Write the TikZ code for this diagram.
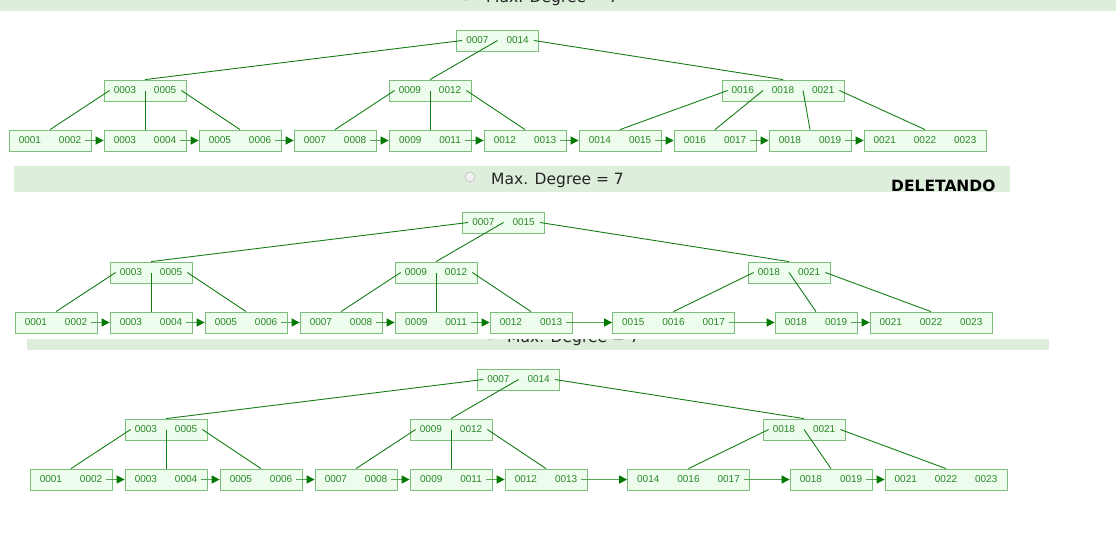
\documentclass[tikz,border=0pt]{standalone}
\usepackage{fontspec}
\setmainfont{Liberation Sans}
\newfontfamily\dejavu{DejaVu Sans}
\usetikzlibrary{arrows.meta}
\definecolor{boxc}{RGB}{125,190,125}
\definecolor{fillc}{RGB}{238,252,238}
\definecolor{keyc}{RGB}{40,135,40}
\definecolor{edgec}{RGB}{20,125,20}
\definecolor{arrowc}{RGB}{85,165,85}
\definecolor{headc}{RGB}{0,120,0}
\definecolor{bandc}{RGB}{221,238,218}
\newcommand\twok[2]{#1\hspace{18pt}#2}
\newcommand\threek[3]{#1\hspace{18pt}#2\hspace{18pt}#3}
\tikzset{
 bnode/.style={draw=boxc, fill=fillc, line width=0.8pt, minimum height=21pt, minimum width=82pt, inner sep=0pt, text=keyc, font=\fontsize{10}{12}\selectfont},
 wide/.style={minimum width=122pt},
 tedge/.style={draw=edgec, line width=0.9pt},
 larrow/.style={draw=arrowc, line width=1.4pt, -{Triangle[length=8pt,width=8pt,color=headc]}},
 bantext/.style={font=\dejavu\fontsize{15.5}{18}\selectfont, text=black!85, anchor=base west, inner sep=0pt},
 radio/.style={circle, draw=gray!60, fill=gray!12, minimum size=10pt, inner sep=0pt},
}
\newcommand\lowertree[3]{%
 \node[bnode] (#1r) at (503.5,222.5) {\twok{0007}{#2}};
 \node[bnode] (#1i1) at (151,272.5) {\twok{0003}{0005}};
 \node[bnode] (#1i2) at (436,272.5) {\twok{0009}{0012}};
 \node[bnode] (#1i3) at (789,272.5) {\twok{0018}{0021}};
 \node[bnode] (#1l1) at (56,322.5) {\twok{0001}{0002}};
 \node[bnode] (#1l2) at (151,322.5) {\twok{0003}{0004}};
 \node[bnode] (#1l3) at (246,322.5) {\twok{0005}{0006}};
 \node[bnode] (#1l4) at (341,322.5) {\twok{0007}{0008}};
 \node[bnode] (#1l5) at (436,322.5) {\twok{0009}{0011}};
 \node[bnode] (#1l6) at (531,322.5) {\twok{0012}{0013}};
 \node[bnode,wide] (#1l7) at (673.5,322.5) {\threek{#3}{0016}{0017}};
 \node[bnode] (#1l8) at (816,322.5) {\twok{0018}{0019}};
 \node[bnode,wide] (#1l9) at (931,322.5) {\threek{0021}{0022}{0023}};
 \draw[tedge] ([xshift=6pt]#1r.west) -- (#1i1.north);
 \draw[tedge] (#1r.center) -- (#1i2.north);
 \draw[tedge] ([xshift=-5pt]#1r.east) -- (#1i3.north);
 \draw[tedge] ([xshift=6pt]#1i1.west) -- (#1l1.north);
 \draw[tedge] (#1i1.center) -- (#1l2.north);
 \draw[tedge] ([xshift=-5pt]#1i1.east) -- (#1l3.north);
 \draw[tedge] ([xshift=6pt]#1i2.west) -- (#1l4.north);
 \draw[tedge] (#1i2.center) -- (#1l5.north);
 \draw[tedge] ([xshift=-5pt]#1i2.east) -- (#1l6.north);
 \draw[tedge] ([xshift=6pt]#1i3.west) -- (#1l7.north);
 \draw[tedge] (#1i3.center) -- (#1l8.north);
 \draw[tedge] ([xshift=-5pt]#1i3.east) -- (#1l9.north);
 \foreach \a/\b in {1/2,2/3,3/4,4/5,5/6,6/7,7/8,8/9}
   \draw[larrow] ([xshift=-6pt]#1l\a.east) -- (#1l\b.west);
}
\begin{document}
\begin{tikzpicture}[x=1pt,y=-1pt]
\useasboundingbox (0,0) rectangle (1116,536);
\clip (0,0) rectangle (1116,536);
% ---------- banner 1 (top, cut by the edge)
\fill[bandc] (0,-16) rectangle (1116,10.5);
\node[radio] (rad1) at (466,-4.5) {};
\node[bantext] (ban1) at (486,2.5) {Max. Degree = 7};
% ---------- tree 1
\node[bnode] (ar) at (497.5,40.5) {\twok{0007}{0014}};
\node[bnode] (ai1) at (145,90.5) {\twok{0003}{0005}};
\node[bnode] (ai2) at (430,90.5) {\twok{0009}{0012}};
\node[bnode,wide] (ai3) at (783,90.5) {\threek{0016}{0018}{0021}};
\node[bnode] (al1) at (50,140.5) {\twok{0001}{0002}};
\node[bnode] (al2) at (145,140.5) {\twok{0003}{0004}};
\node[bnode] (al3) at (240,140.5) {\twok{0005}{0006}};
\node[bnode] (al4) at (335,140.5) {\twok{0007}{0008}};
\node[bnode] (al5) at (430,140.5) {\twok{0009}{0011}};
\node[bnode] (al6) at (525,140.5) {\twok{0012}{0013}};
\node[bnode] (al7) at (620,140.5) {\twok{0014}{0015}};
\node[bnode] (al8) at (715,140.5) {\twok{0016}{0017}};
\node[bnode] (al9) at (810,140.5) {\twok{0018}{0019}};
\node[bnode,wide] (al10) at (925,140.5) {\threek{0021}{0022}{0023}};
\draw[tedge] ([xshift=6pt]ar.west) -- (ai1.north);
\draw[tedge] (ar.center) -- (ai2.north);
\draw[tedge] ([xshift=-5pt]ar.east) -- (ai3.north);
\draw[tedge] ([xshift=6pt]ai1.west) -- (al1.north);
\draw[tedge] (ai1.center) -- (al2.north);
\draw[tedge] ([xshift=-5pt]ai1.east) -- (al3.north);
\draw[tedge] ([xshift=6pt]ai2.west) -- (al4.north);
\draw[tedge] (ai2.center) -- (al5.north);
\draw[tedge] ([xshift=-5pt]ai2.east) -- (al6.north);
\draw[tedge] ([xshift=6pt]ai3.west) -- (al7.north);
\draw[tedge] ([xshift=-20pt]ai3.center) -- (al8.north);
\draw[tedge] ([xshift=20pt]ai3.center) -- (al9.north);
\draw[tedge] ([xshift=-5pt]ai3.east) -- (al10.north);
\foreach \a/\b in {1/2,2/3,3/4,4/5,5/6,6/7,7/8,8/9,9/10}
  \draw[larrow] ([xshift=-6pt]al\a.east) -- (al\b.west);
% ---------- banner 2
\fill[bandc] (14,166) rectangle (1010,192);
\node[radio] (rad2) at (470,177) {};
\node[bantext] (ban2) at (491,184) {Max. Degree = 7};
\node[font=\dejavu\bfseries\fontsize{15.5}{18}\selectfont, anchor=base west, inner sep=0pt] (del) at (891,191) {DELETANDO};
% ---------- tree 2
\lowertree{b}{0015}{0015}
% ---------- banner 3 (partly covered)
\begin{scope}
\clip (27,339) rectangle (1049,350);
\fill[bandc] (27,324) rectangle (1049,350);
\node[radio] (rad3) at (490,335) {};
\node[bantext] (ban3) at (507,342) {Max. Degree = 7};
\end{scope}
% ---------- tree 3
\begin{scope}[shift={(15,157)}]
\lowertree{c}{0014}{0014}
\end{scope}
\end{tikzpicture}
\end{document}
